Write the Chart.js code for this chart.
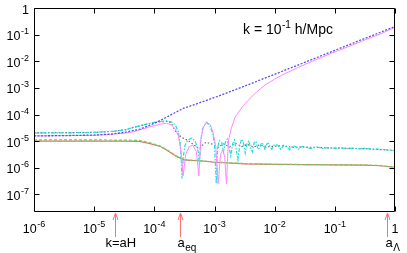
<!DOCTYPE html>
<html>
<head>
<meta charset="utf-8">
<script src="https://cdn.jsdelivr.net/npm/chart.js@4.4.1/dist/chart.umd.min.js"></script>
<style>
html,body{margin:0;padding:0;background:#fff;}
#wrap{width:407px;height:253px;}
</style>
</head>
<body>
<div id="wrap"><canvas id="c" width="407" height="253"></canvas></div>
<script>
// ---- data (scale factor a, perturbation amplitude) ----
const aCDM = [1e-6,3.16e-6,1e-5,2e-5,3.16e-5,5.75e-5,8.51e-5,1.26e-4,1.62e-4,2.24e-4,3.02e-4,4.47e-4,6.31e-4,1e-3,1.78e-3,3.16e-3,1e-2,3.16e-2,0.1,0.316,1];
const deltaCDM = [1.58e-5,1.62e-5,1.70e-5,1.86e-5,2.14e-5,2.82e-5,3.98e-5,6.03e-5,8.13e-5,1.20e-4,1.70e-4,2.29e-4,3.02e-4,4.37e-4,7.08e-4,1.17e-3,3.24e-3,9.12e-3,2.57e-2,7.24e-2,0.20];

const aBaryon = [1e-6,1e-5,2e-5,3.16e-5,4.47e-5,7.94e-5,1.26e-4,1.58e-4,1.91e-4,2.24e-4,2.51e-4,2.75e-4,3.02e-4,3.31e-4,3.80e-4,4.37e-4,5.01e-4,5.50e-4,5.89e-4,6.46e-4,7.41e-4,8.51e-4,9.55e-4,1.05e-3,1.15e-3,1.26e-3,1.38e-3,1.48e-3,1.58e-3,1.70e-3,1.91e-3,2.19e-3,2.82e-3,3.63e-3,5.01e-3,6.92e-3,1e-2,1.32e-2,2.51e-2,4.68e-2,0.1,0.166,0.316,0.603,1];
const deltaBaryon = [1.58e-5,1.66e-5,1.82e-5,2.00e-5,2.24e-5,3.31e-5,4.37e-5,4.68e-5,4.17e-5,2.82e-5,1.58e-5,5.01e-6,5.01e-7,3.16e-6,6.31e-6,7.08e-6,3.98e-6,5.01e-7,1.0e-5,3.16e-5,5.25e-5,4.17e-5,2.0e-5,6.31e-6,2.51e-7,3.16e-6,5.01e-6,2.51e-6,2.51e-7,1.0e-5,3.16e-5,7.94e-5,1.78e-4,3.47e-4,7.08e-4,1.29e-3,2.14e-3,3.02e-3,6.03e-3,1.11e-2,2.24e-2,3.51e-2,6.31e-2,0.112,0.19];

const aPhoton = [1e-6,3.16e-6,1e-5,2e-5,3.16e-5,5.01e-5,7.94e-5,1.12e-4,1.58e-4,1.91e-4,2.24e-4,2.51e-4,2.69e-4,2.82e-4,2.88e-4,3.02e-4,3.24e-4,3.63e-4,4.17e-4,4.79e-4,5.37e-4,5.62e-4,5.89e-4,6.31e-4,7.24e-4,8.32e-4,9.33e-4,1e-3,1.07e-3,1.12e-3,
  1.20e-3,1.32e-3,1.41e-3,1.51e-3,1.62e-3,1.74e-3,1.86e-3,2.0e-3,2.14e-3,2.29e-3,2.45e-3,2.63e-3,2.82e-3,3.02e-3,3.24e-3,3.47e-3,3.72e-3,3.98e-3,4.27e-3,4.57e-3,4.90e-3,5.25e-3,5.62e-3,6.03e-3,6.46e-3,6.92e-3,7.41e-3,7.94e-3,8.91e-3,
  1e-2,1.12e-2,1.26e-2,1.41e-2,1.58e-2,1.78e-2,2.0e-2,2.24e-2,2.51e-2,2.82e-2,3.16e-2,3.98e-2,5.01e-2,6.31e-2,7.94e-2,0.1,0.126,0.158,0.2,0.251,0.316,0.398,0.501,0.631,0.794,1];
const deltaPhoton = [2.04e-5,2.04e-5,2.14e-5,2.34e-5,2.63e-5,3.55e-5,4.57e-5,5.37e-5,5.75e-5,5.37e-5,3.98e-5,2.24e-5,7.94e-6,1.58e-6,3.98e-7,2.51e-6,7.08e-6,1.12e-5,1.32e-5,1.0e-5,3.98e-6,1.26e-6,1.0e-5,2.82e-5,5.13e-5,3.98e-5,2.0e-5,7.94e-6,2.51e-7,5.01e-6,
  1.05e-5,8.91e-6,3.98e-6,8.91e-6,1.20e-5,6.31e-6,2.82e-6,7.94e-6,1.12e-5,5.01e-6,2.0e-6,7.08e-6,1.20e-5,8.91e-6,3.55e-6,7.94e-6,1.05e-5,5.62e-6,3.98e-6,8.91e-6,1.0e-5,5.01e-6,5.62e-6,8.91e-6,7.59e-6,4.79e-6,7.94e-6,8.32e-6,5.01e-6,
  7.59e-6,7.08e-6,5.01e-6,7.08e-6,6.31e-6,4.79e-6,6.76e-6,6.31e-6,5.01e-6,6.31e-6,6.03e-6,5.25e-6,6.17e-6,5.37e-6,5.75e-6,5.37e-6,5.75e-6,5.25e-6,5.50e-6,5.13e-6,5.37e-6,5.01e-6,5.13e-6,4.79e-6,4.68e-6,4.47e-6];

const aNeutrino = [1e-6,1e-5,2e-5,3.16e-5,5.01e-5,7.94e-5,1.26e-4,1.66e-4,1.91e-4,2.24e-4,2.82e-4,3.63e-4,4.68e-4,5.62e-4,6.31e-4,7.24e-4,8.91e-4,1.15e-3,1.41e-3,1.78e-3,2.24e-3,2.82e-3,3.55e-3,4.47e-3,5.62e-3,7.94e-3,1.26e-2,2.0e-2,3.16e-2,0.1,0.316,1];
const deltaNeutrino = [2.04e-5,2.14e-5,2.34e-5,2.63e-5,3.47e-5,4.47e-5,5.37e-5,5.50e-5,4.79e-5,2.40e-5,1.41e-5,1.07e-5,6.92e-6,5.13e-6,7.08e-6,9.12e-6,7.94e-6,5.89e-6,7.94e-6,6.03e-6,8.32e-6,6.31e-6,7.59e-6,6.03e-6,7.24e-6,6.17e-6,6.76e-6,5.89e-6,6.03e-6,5.50e-6,5.25e-6,4.47e-6];

const aPotential = [1e-6,1e-5,3.16e-5,5.62e-5,8.51e-5,1.26e-4,1.62e-4,2.34e-4,3.16e-4,3.98e-4,5.37e-4,1e-3,3.16e-3,1e-2,3.16e-2,0.1,0.316,0.562,1];
const phi = [1.0e-5,1.0e-5,1.0e-5,9.77e-6,8.13e-6,6.31e-6,4.57e-6,2.69e-6,2.0e-6,1.91e-6,1.86e-6,1.62e-6,1.41e-6,1.35e-6,1.32e-6,1.29e-6,1.26e-6,1.20e-6,1.05e-6];
const psi = [1.12e-5,1.12e-5,1.10e-5,1.07e-5,8.71e-6,6.61e-6,4.79e-6,2.75e-6,2.04e-6,1.95e-6,1.91e-6,1.66e-6,1.45e-6,1.36e-6,1.33e-6,1.30e-6,1.27e-6,1.22e-6,1.06e-6];

// tick labels: base + exponent
const xTickValues = [1e-6,1e-5,1e-4,1e-3,1e-2,1e-1,1];
const xTickBase = ['10','10','10','10','10','10','1'];
const xTickExp = ['-6','-5','-4','-3','-2','-1',''];
const yTickValues = [1e-7,1e-6,1e-5,1e-4,1e-3,1e-2,1e-1,1];
const yTickBase = ['10','10','10','10','10','10','10','1'];
const yTickExp = ['-7','-6','-5','-4','-3','-2','-1',''];

const markerA = [2.24e-5, 2.69e-4, 0.74];
const markerMain = ['k=aH', 'a', 'a'];
const markerSub = ['', 'eq', 'Λ'];
const markerShift = [-10, -3, -2];

const titleMain = 'k = 10';
const titleSup = '-1';
const titleRest = ' h/Mpc';

// ---- chart ----
function pts(xs, ys){ return xs.map((x,i)=>({x:x, y:ys[i]})); }

const FONT = '"Liberation Sans", Arial, Helvetica, sans-serif';
const BASE = 12.5, EXP = 9;

function supWidth(ctx, base, exp){
  ctx.font = BASE + 'px ' + FONT;
  let w = ctx.measureText(base).width;
  if (exp) { ctx.font = EXP + 'px ' + FONT; w += ctx.measureText(exp).width + 0.5; }
  return w;
}
function drawSup(ctx, base, exp, x, y){
  ctx.font = BASE + 'px ' + FONT;
  ctx.fillText(base, x, y);
  const w = ctx.measureText(base).width;
  if (exp) { ctx.font = EXP + 'px ' + FONT; ctx.fillText(exp, x + w + 0.5, y - 6); }
}

const framePlugin = {
  id: 'frame',
  afterDatasetsDraw(chart){
    const ctx = chart.ctx, ca = chart.chartArea;
    const xs = chart.scales.x, ys = chart.scales.y;
    ctx.save();
    ctx.strokeStyle = '#000';
    ctx.lineWidth = 1;
    const L = Math.round(ca.left)+0.5, R = Math.round(ca.right)-0.5, T = Math.round(ca.top)+0.5, B = Math.round(ca.bottom)-0.5;
    ctx.beginPath();
    ctx.rect(L, T, R-L, B-T);
    ctx.stroke();
    ctx.beginPath();
    xTickValues.forEach(v=>{
      const px = Math.round(xs.getPixelForValue(v))+0.5;
      ctx.moveTo(px, B); ctx.lineTo(px, B-5);
      ctx.moveTo(px, T); ctx.lineTo(px, T+5);
    });
    yTickValues.forEach(v=>{
      const py = Math.round(ys.getPixelForValue(v))+0.5;
      ctx.moveTo(L, py); ctx.lineTo(L+5, py);
      ctx.moveTo(R, py); ctx.lineTo(R-5, py);
    });
    ctx.stroke();

    // tick labels
    ctx.fillStyle = '#000';
    ctx.textBaseline = 'alphabetic';
    ctx.textAlign = 'left';
    xTickValues.forEach((v,i)=>{
      const px = xs.getPixelForValue(v);
      const w = supWidth(ctx, xTickBase[i], xTickExp[i]);
      drawSup(ctx, xTickBase[i], xTickExp[i], px - w/2, ca.bottom + 21);
    });
    yTickValues.forEach((v,i)=>{
      const py = ys.getPixelForValue(v);
      const w = supWidth(ctx, yTickBase[i], yTickExp[i]);
      drawSup(ctx, yTickBase[i], yTickExp[i], 29 - w, py + 5.5);
    });

    // arrows and labels below the axis
    ctx.strokeStyle = '#ff7070';
    markerA.forEach((a,i)=>{
      const px = Math.round(xs.getPixelForValue(a))+0.5;
      const tip = ca.bottom + 1;
      ctx.beginPath();
      ctx.moveTo(px, ca.bottom + 25);
      ctx.lineTo(px, tip);
      ctx.moveTo(px-2.5, tip+7);
      ctx.lineTo(px, tip);
      ctx.lineTo(px+2.5, tip+7);
      ctx.stroke();
      const lx = px + markerShift[i];
      ctx.font = '13px ' + FONT;
      ctx.fillText(markerMain[i], lx, 247);
      if (markerSub[i]) {
        const w = ctx.measureText(markerMain[i]).width;
        ctx.font = '10px ' + FONT;
        ctx.fillText(markerSub[i], lx + w + 0.5, 251);
      }
    });

    // title annotation
    ctx.font = '14px ' + FONT;
    let tx = 243;
    const ty = 34;
    ctx.fillText(titleMain, tx, ty);
    tx += ctx.measureText(titleMain).width;
    ctx.font = '10px ' + FONT;
    ctx.fillText(titleSup, tx + 0.5, ty - 6);
    tx += ctx.measureText(titleSup).width + 0.5;
    ctx.font = '14px ' + FONT;
    ctx.fillText(titleRest, tx, ty);
    ctx.restore();
  }
};

new Chart(document.getElementById('c'), {
  type: 'line',
  data: {
    datasets: [
      { label: 'phi', data: pts(aPotential, phi), borderColor: '#f06a6a', borderWidth: 1.2, order: 6 },
      { label: 'psi', data: pts(aPotential, psi), borderColor: '#5cd65c', borderWidth: 1.2, borderDash: [3,2], order: 5 },
      { label: 'delta_nu', data: pts(aNeutrino, deltaNeutrino), borderColor: '#666666', borderWidth: 1.1, borderDash: [1.5,2], order: 4 },
      { label: 'delta_gamma', data: pts(aPhoton, deltaPhoton), borderColor: '#1ee0e0', borderWidth: 1.2, borderDash: [4,1.5,1.5,1.5], order: 3 },
      { label: 'delta_b', data: pts(aBaryon, deltaBaryon), borderColor: '#ff88ff', borderWidth: 1, order: 2 },
      { label: 'delta_c', data: pts(aCDM, deltaCDM), borderColor: '#5a50f5', borderWidth: 1.3, borderDash: [2,1.5], order: 1 }
    ]
  },
  options: {
    responsive: false,
    animation: false,
    devicePixelRatio: 1,
    layout: { padding: { top: 8, right: 12, left: 0, bottom: 0 } },
    elements: { point: { radius: 0 }, line: { tension: 0, fill: false } },
    plugins: { legend: { display: false }, tooltip: { enabled: false } },
    scales: {
      x: {
        type: 'logarithmic', min: 1e-6, max: 1,
        grid: { display: false }, border: { display: false },
        afterBuildTicks: s => { s.ticks = xTickValues.map(v=>({value:v})); },
        afterFit: s => { s.height = 41; },
        ticks: { display: false }
      },
      y: {
        type: 'logarithmic', min: 2.2e-8, max: 1,
        grid: { display: false }, border: { display: false },
        afterBuildTicks: s => { s.ticks = yTickValues.map(v=>({value:v})); },
        afterFit: s => { s.width = 34; },
        ticks: { display: false }
      }
    }
  },
  plugins: [framePlugin]
});
</script>
</body>
</html>
